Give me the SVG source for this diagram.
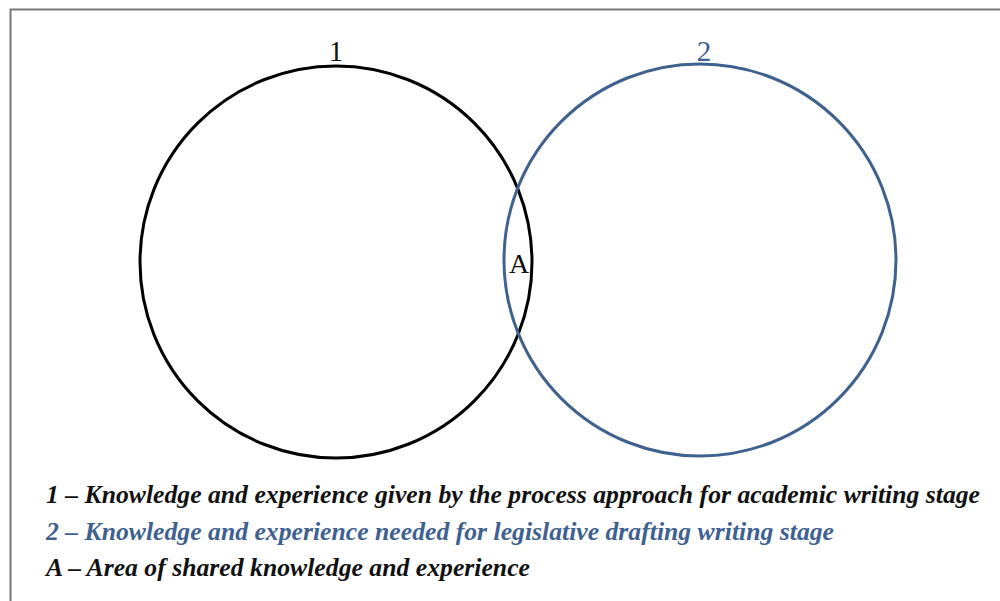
<svg xmlns="http://www.w3.org/2000/svg" width="1000" height="601" viewBox="0 0 1000 601">
<style>
.leg{font-family:"Liberation Serif",serif;font-weight:bold;font-style:italic;font-size:25px}
.num{font-family:"Liberation Serif",serif;font-size:29px;text-anchor:middle}
</style>
<rect x="0" y="0" width="1000" height="601" fill="#fff"/>
<path d="M10.5 601V9.5H1000" fill="none" stroke="#777" stroke-width="2"/>
<g id="circle1">
<circle cx="336" cy="262" r="196" fill="none" stroke="#000" stroke-width="3"/>
<text class="num" x="336" y="61" fill="#111">1</text>
</g>
<g id="circle2">
<circle cx="700" cy="260" r="196" fill="none" stroke="#3f6190" stroke-width="3"/>
<text class="num" x="704" y="61" fill="#3f6190">2</text>
</g>
<g id="areaA">
<text x="519" y="273" font-family="Liberation Serif,serif" font-size="28" text-anchor="middle" fill="#111">A</text>
</g>
<g id="legend">
<text class="leg" x="46" y="503" fill="#111" textLength="934" lengthAdjust="spacingAndGlyphs">1 – Knowledge and experience given by the process approach for academic writing stage</text>
<text class="leg" x="46" y="540" fill="#3f6190" textLength="788" lengthAdjust="spacingAndGlyphs">2 – Knowledge and experience needed for legislative drafting writing stage</text>
<text class="leg" x="46" y="576" fill="#111" textLength="484" lengthAdjust="spacingAndGlyphs">A – Area of shared knowledge and experience</text>
</g>
<g id="connectors"/>
</svg>
